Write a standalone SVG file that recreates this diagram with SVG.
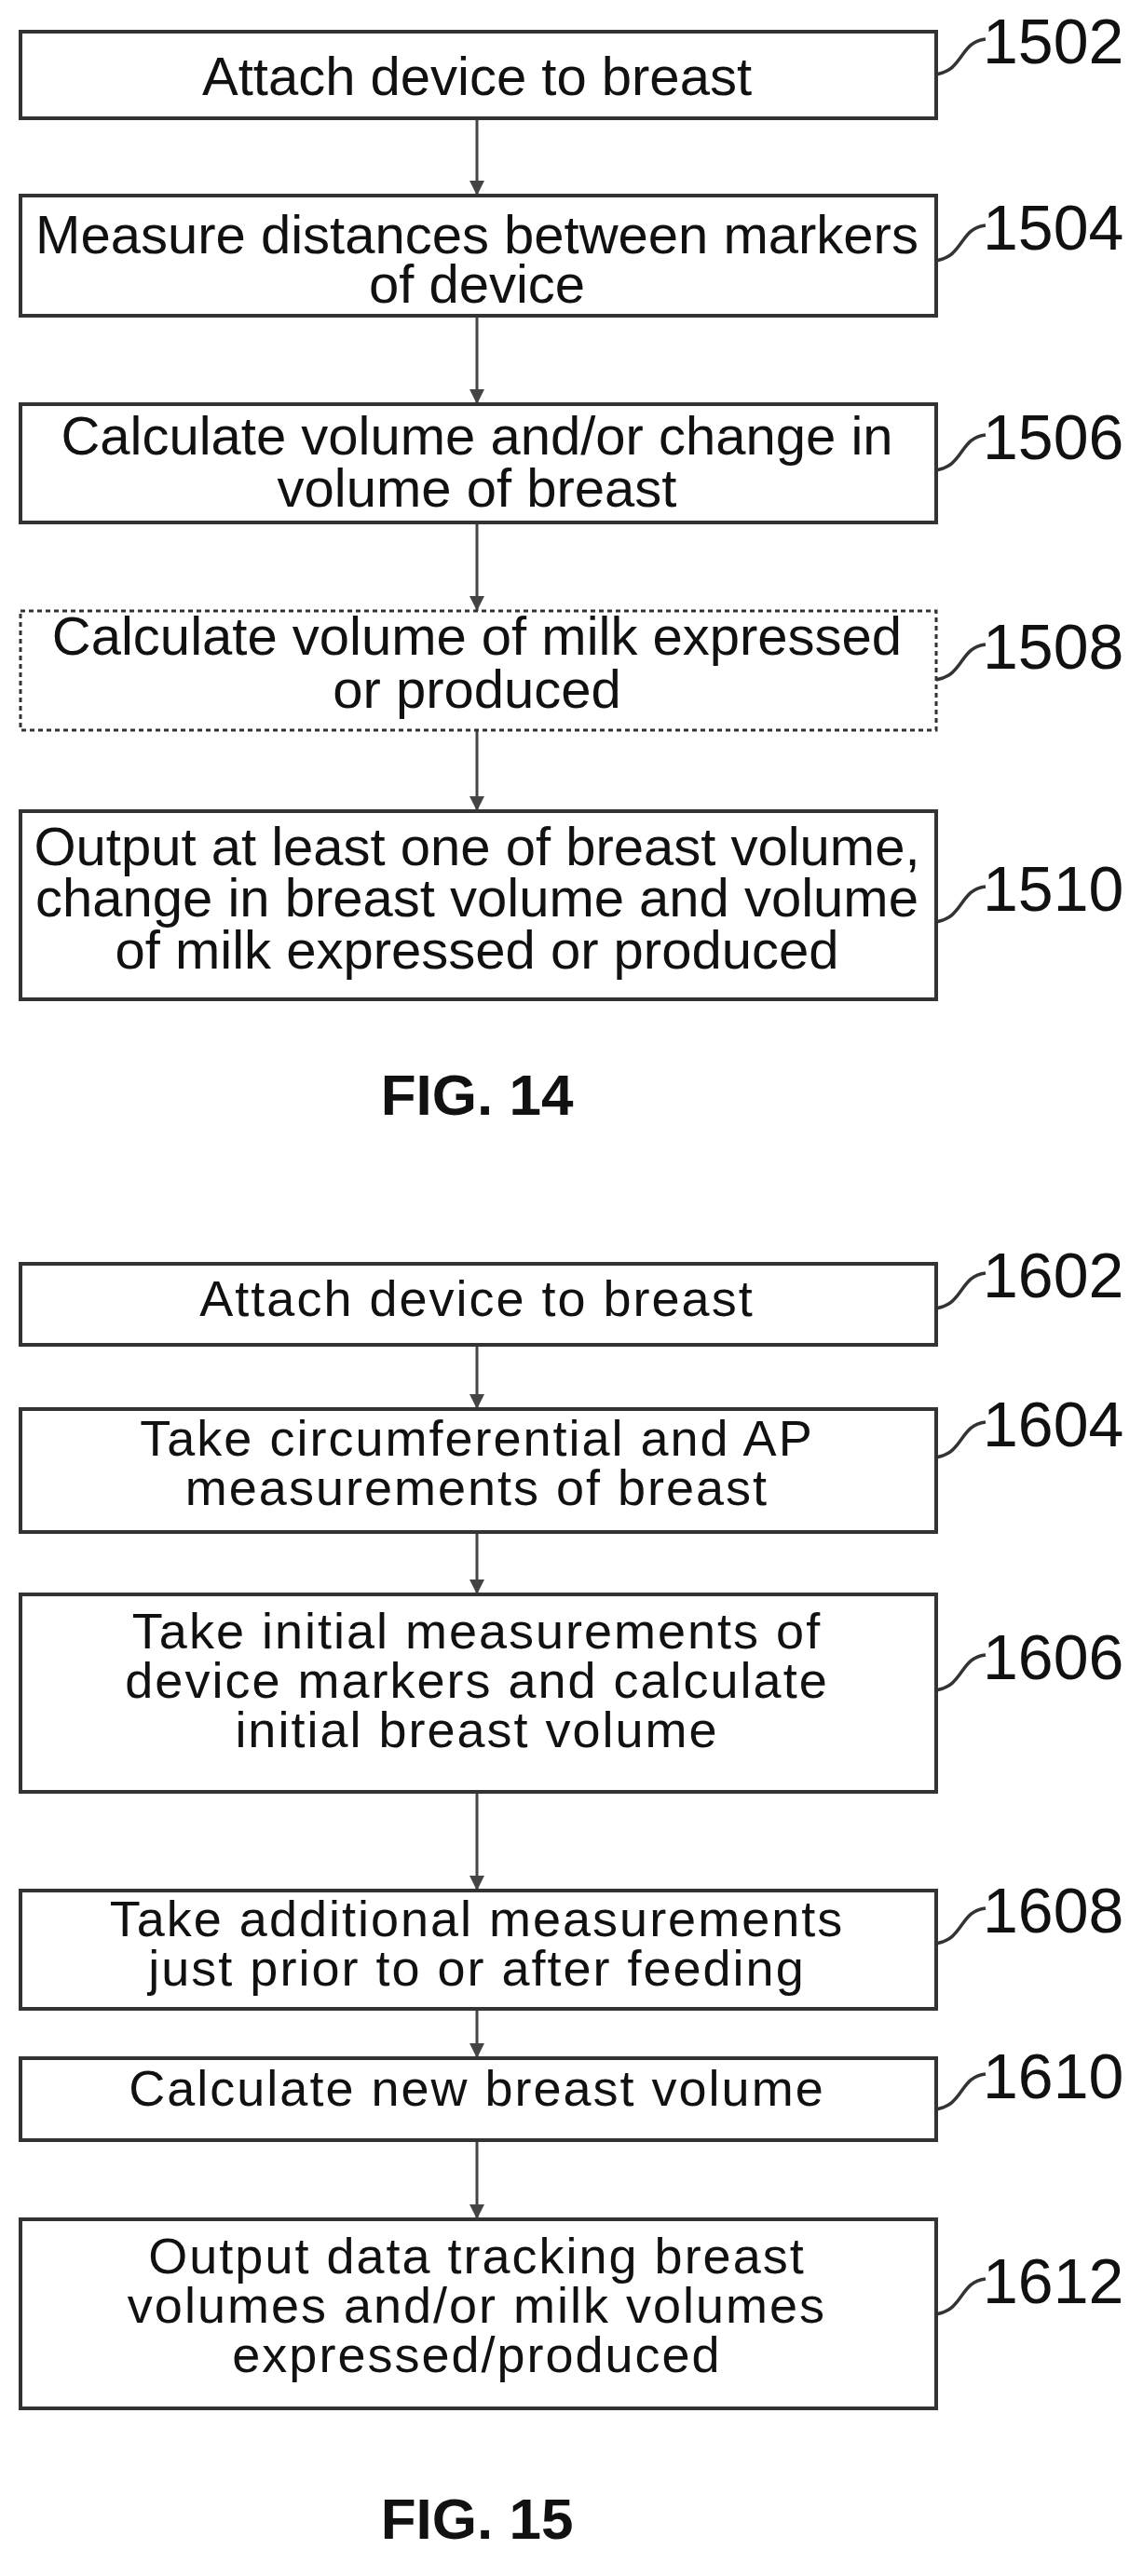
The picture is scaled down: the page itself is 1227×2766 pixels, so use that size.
<svg xmlns="http://www.w3.org/2000/svg" width="1227" height="2766" viewBox="0 0 1227 2766">
<style>
.b{fill:#fff;stroke:#333;stroke-width:4}
.d{fill:#fff;stroke:#333;stroke-width:3;stroke-dasharray:5 4}
.t{font-family:"Liberation Sans",Arial,sans-serif;font-size:58px;fill:#111;text-anchor:middle}
.t2{font-family:"Liberation Sans",Arial,sans-serif;font-size:54px;fill:#111;text-anchor:middle;letter-spacing:2px}
.l{font-family:"Liberation Sans",Arial,sans-serif;font-size:68px;fill:#111}
.f{font-family:"Liberation Sans",Arial,sans-serif;font-size:62px;font-weight:bold;fill:#111;text-anchor:middle}
.c{fill:none;stroke:#333;stroke-width:3.5}
.a{fill:none;stroke:#444;stroke-width:3}
</style>
<defs><marker id="ah2" markerWidth="18" markerHeight="16" refX="16" refY="8" orient="auto" markerUnits="userSpaceOnUse"><path d="M0,0 L16,8 L0,16 Z" fill="#444"/></marker></defs>
<g id="connectors">
<line class="a" x1="512" y1="127" x2="512" y2="210" marker-end="url(#ah2)"/>
<line class="a" x1="512" y1="339" x2="512" y2="434" marker-end="url(#ah2)"/>
<line class="a" x1="512" y1="561" x2="512" y2="656" marker-end="url(#ah2)"/>
<line class="a" x1="512" y1="784" x2="512" y2="871" marker-end="url(#ah2)"/>
<line class="a" x1="512" y1="1444" x2="512" y2="1513" marker-end="url(#ah2)"/>
<line class="a" x1="512" y1="1645" x2="512" y2="1712" marker-end="url(#ah2)"/>
<line class="a" x1="512" y1="1924" x2="512" y2="2030" marker-end="url(#ah2)"/>
<line class="a" x1="512" y1="2157" x2="512" y2="2210" marker-end="url(#ah2)"/>
<line class="a" x1="512" y1="2298" x2="512" y2="2383" marker-end="url(#ah2)"/>
</g>
<g id="n1502"><rect class="b" x="22" y="34" width="983" height="93"/><text class="t" x="512" y="102">Attach device to breast</text><path class="c" d="M1005,80 C1035,75 1030,45 1058,42"/><text class="l" x="1055" y="68">1502</text></g>
<g id="n1504"><rect class="b" x="22" y="210" width="983" height="129"/><text class="t" x="512" y="272">Measure distances between markers</text><text class="t" x="512" y="325">of device</text><path class="c" d="M1005,280 C1035,275 1030,245 1058,242"/><text class="l" x="1055" y="268">1504</text></g>
<g id="n1506"><rect class="b" x="22" y="434" width="983" height="127"/><text class="t" x="512" y="488">Calculate volume and/or change in</text><text class="t" x="512" y="544">volume of breast</text><path class="c" d="M1005,505 C1035,500 1030,470 1058,467"/><text class="l" x="1055" y="493">1506</text></g>
<g id="n1508"><rect class="d" x="22" y="656" width="983" height="128"/><text class="t" x="512" y="703">Calculate volume of milk expressed</text><text class="t" x="512" y="760">or produced</text><path class="c" d="M1005,730 C1035,725 1030,695 1058,692"/><text class="l" x="1055" y="718">1508</text></g>
<g id="n1510"><rect class="b" x="22" y="871" width="983" height="202"/><text class="t" x="512" y="929">Output at least one of breast volume,</text><text class="t" x="512" y="984">change in breast volume and volume</text><text class="t" x="512" y="1040">of milk expressed or produced</text><path class="c" d="M1005,990 C1035,985 1030,955 1058,952"/><text class="l" x="1055" y="978">1510</text></g>
<text class="f" x="512" y="1197">FIG. 14</text>
<g id="n1602"><rect class="b" x="22" y="1357" width="983" height="87"/><text class="t2" x="512" y="1413">Attach device to breast</text><path class="c" d="M1005,1405 C1035,1400 1030,1370 1058,1367"/><text class="l" x="1055" y="1393">1602</text></g>
<g id="n1604"><rect class="b" x="22" y="1513" width="983" height="132"/><text class="t2" x="512" y="1563">Take circumferential and AP</text><text class="t2" x="512" y="1616">measurements of breast</text><path class="c" d="M1005,1565 C1035,1560 1030,1530 1058,1527"/><text class="l" x="1055" y="1553">1604</text></g>
<g id="n1606"><rect class="b" x="22" y="1712" width="983" height="212"/><text class="t2" x="512" y="1770">Take initial measurements of</text><text class="t2" x="512" y="1823">device markers and calculate</text><text class="t2" x="512" y="1876">initial breast volume</text><path class="c" d="M1005,1815 C1035,1810 1030,1780 1058,1777"/><text class="l" x="1055" y="1803">1606</text></g>
<g id="n1608"><rect class="b" x="22" y="2030" width="983" height="127"/><text class="t2" x="512" y="2079">Take additional measurements</text><text class="t2" x="512" y="2132">just prior to or after feeding</text><path class="c" d="M1005,2087 C1035,2082 1030,2052 1058,2049"/><text class="l" x="1055" y="2075">1608</text></g>
<g id="n1610"><rect class="b" x="22" y="2210" width="983" height="88"/><text class="t2" x="512" y="2261">Calculate new breast volume</text><path class="c" d="M1005,2265 C1035,2260 1030,2230 1058,2227"/><text class="l" x="1055" y="2253">1610</text></g>
<g id="n1612"><rect class="b" x="22" y="2383" width="983" height="203"/><text class="t2" x="512" y="2441">Output data tracking breast</text><text class="t2" x="512" y="2494">volumes and/or milk volumes</text><text class="t2" x="512" y="2547">expressed/produced</text><path class="c" d="M1005,2485 C1035,2480 1030,2450 1058,2447"/><text class="l" x="1055" y="2473">1612</text></g>
<text class="f" x="512" y="2726">FIG. 15</text>
</svg>
